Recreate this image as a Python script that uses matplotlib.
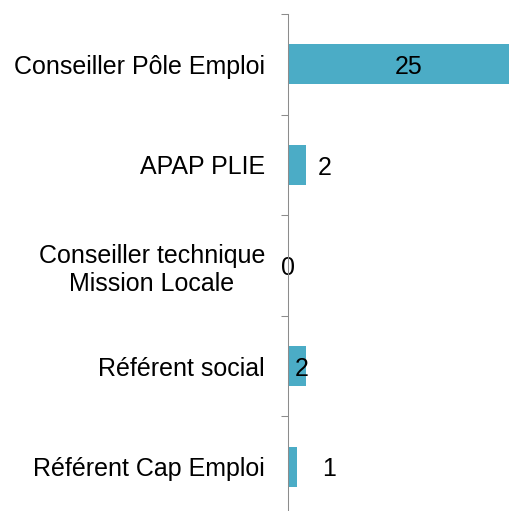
import matplotlib
matplotlib.use("Agg")
import matplotlib.pyplot as plt
from matplotlib.ticker import FixedLocator, NullFormatter

# data
categories = ["Conseiller Pôle Emploi", "APAP PLIE",
              "Conseiller technique\nMission Locale", "Référent social",
              "Référent Cap Emploi"]
values = [25, 2, 0, 2, 1]

# label placement used in the original (offset from bar end, in points)
label_offsets = [None, 8, 0, -3, 18]

plt.rcParams['font.family'] = ['Liberation Sans', 'DejaVu Sans']

fig = plt.figure(figsize=(5.10, 5.11), dpi=100)
W, H = 510, 511
ax = fig.add_axes([288.5 / W, 1 - 517 / H, 221.5 / W, 503 / H])

pos = list(range(len(categories)))
bars = ax.barh(pos, values, height=0.4, color='#4BACC6', zorder=2)

ax.set_xlim(0, 25)
ax.set_ylim(len(categories) - 0.5, -0.5)

for i, (b, v) in enumerate(zip(bars, values)):
    yc = b.get_y() + b.get_height() / 2
    if label_offsets[i] is None:
        ax.annotate(str(v), (v / 2, yc), xytext=(7, -2), textcoords='offset points',
                    ha='center', va='center', fontsize=18, color='black')
    else:
        ax.annotate(str(v), (v, yc), xytext=(label_offsets[i], -2),
                    textcoords='offset points', ha='left' if label_offsets[i] > 0 else 'center',
                    va='center', fontsize=18, color='black')

# ticks on category boundaries, labels on centres
ax.yaxis.set_major_locator(FixedLocator([p - 0.5 for p in pos] + [pos[-1] + 0.5]))
ax.yaxis.set_major_formatter(NullFormatter())
ax.yaxis.set_minor_locator(FixedLocator(pos))
ax.set_yticklabels(categories, minor=True, fontsize=18, linespacing=1.2,
                   multialignment='center')
ax.tick_params(axis='y', which='major', length=5, width=0.75, color='#8C8C8C', direction='out')
ax.tick_params(axis='y', which='minor', length=0, pad=17)

ax.set_xticks([])
for s in ['top', 'right', 'bottom']:
    ax.spines[s].set_visible(False)
ax.spines['left'].set_color('#8C8C8C')
ax.spines['left'].set_linewidth(0.75)
ax.spines['left'].set_zorder(3)

fig.savefig("out.png", dpi=100)
